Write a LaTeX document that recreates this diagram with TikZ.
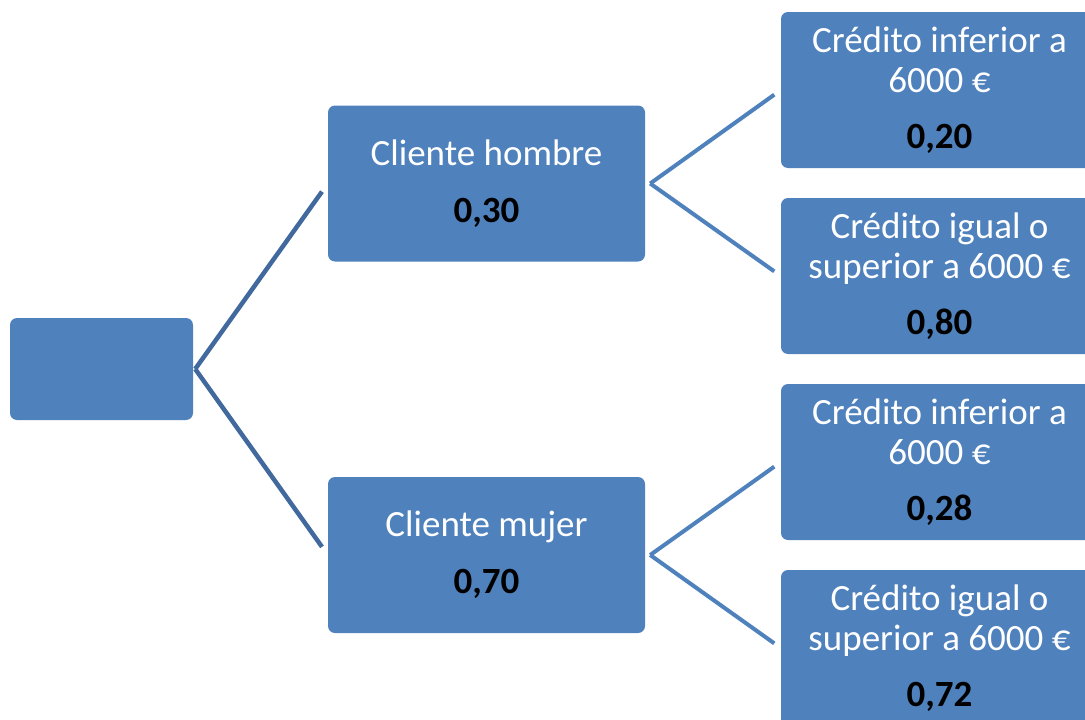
\documentclass[tikz,border=0pt]{standalone}
\usepackage{fontspec}
\setmainfont{Carlito}
\definecolor{boxblue}{HTML}{4F81BD}
\definecolor{rootline}{HTML}{41699D}

\begin{document}
\begin{tikzpicture}[x=1pt,y=-1pt, box/.style={fill=boxblue,rounded corners=7pt,align=center,text=white,inner sep=0pt,minimum width=317pt,minimum height=156pt,font=\fontsize{37}{40}\selectfont}, link/.style={draw=boxblue,line width=4pt,shorten >=8pt}]
\clip (0,0) rectangle (1085,720);
\node[box,minimum width=183pt,minimum height=102pt] (root) at (101.5,369) {};
\node[box] (man) at (486.5,183.5) {Cliente hombre\\[17pt]\textcolor{black}{\textbf{0,30}}};
\node[box] (woman) at (486.5,555) {Cliente mujer\\[17pt]\textcolor{black}{\textbf{0,70}}};
\node[box] (manlow) at (939.5,90) {Crédito inferior a\\6000 €\\[16pt]\textcolor{black}{\textbf{0,20}}};
\node[box] (manhigh) at (939.5,276) {Crédito igual o\\superior a 6000 €\\[16pt]\textcolor{black}{\textbf{0,80}}};
\node[box] (womanlow) at (939.5,462) {Crédito inferior a\\6000 €\\[16pt]\textcolor{black}{\textbf{0,28}}};
\node[box] (womanhigh) at (939.5,648) {Crédito igual o\\superior a 6000 €\\[16pt]\textcolor{black}{\textbf{0,72}}};
\draw[link,draw=rootline,line width=4.5pt,shorten >=10pt] ([xshift=2pt]root.east) -- (man.west);
\draw[link,draw=rootline,line width=4.5pt,shorten >=10pt] ([xshift=2pt]root.east) -- (woman.west);
\draw[link] ([xshift=5pt]man.east) -- (manlow.west); \draw[link] ([xshift=5pt]man.east) -- (manhigh.west);
\draw[link] ([xshift=5pt]woman.east) -- (womanlow.west); \draw[link] ([xshift=5pt]woman.east) -- (womanhigh.west);
\end{tikzpicture}
\end{document}
